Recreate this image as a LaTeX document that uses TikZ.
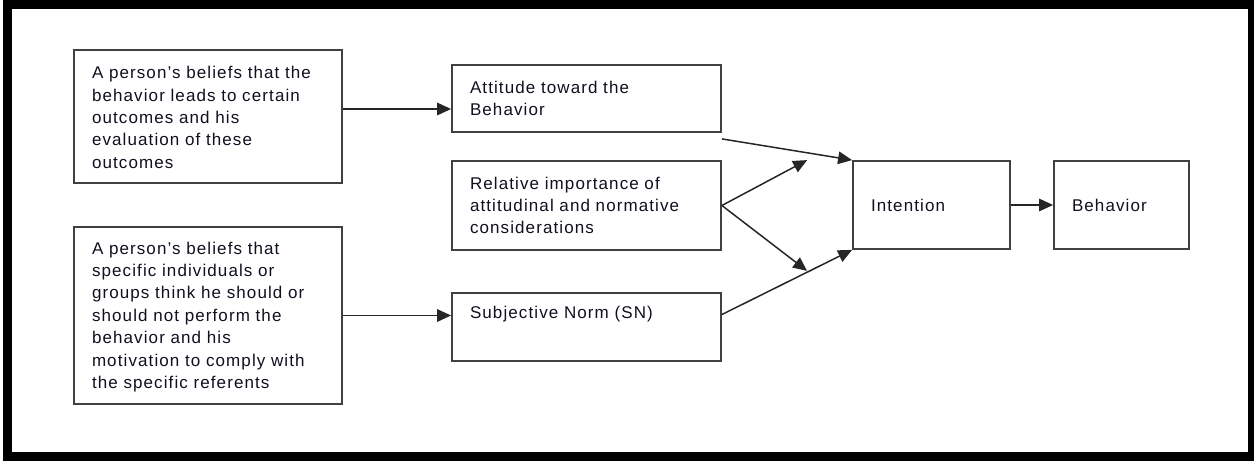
\documentclass[tikz,border=0pt]{standalone}
\usepackage{fontspec}
\setmainfont{Liberation Sans}[LetterSpace=6.5]
\usetikzlibrary{arrows.meta,calc}
\definecolor{boxline}{HTML}{404040}
\definecolor{txt}{HTML}{101020}
\tikzset{
  tbox/.style n args={2}{draw=boxline, line width=1.8pt, fill=white,
    minimum width=#1pt, minimum height=#2pt, text width=#1pt-36pt,
    inner xsep=18pt, inner ysep=0pt, align=left, text=txt,
    font=\fontsize{17pt}{22.4pt}\selectfont},
  arr/.style={draw=black!85, line width=1.5pt,
    -{Triangle[length=14pt,width=12.5pt]}},
}
\begin{document}
\begin{tikzpicture}[x=1pt,y=-1pt]
  \useasboundingbox (0,0) rectangle (1254,461);
  % outer frame
  \draw[line width=9pt] (7.8,4.5) rectangle (1252.5,456.5);

  % beliefs
  \node[tbox={268}{133}] (b1) at (208,116.5)
    {\rule{0pt}{14pt}A person's beliefs that the\\behavior leads to certain\\outcomes and his\\evaluation of these\\outcomes};
  \node[tbox={268}{177}] (b2) at (208,315.5)
    {\rule{0pt}{15pt}A person's beliefs that\\specific individuals or\\groups think he should or\\should not perform the\\behavior and his\\motivation to comply with\\the specific referents};

  % middle column
  \node[tbox={269}{67}] (att) at (586.5,98.5) {Attitude toward the\\Behavior};
  \node[tbox={269}{89}] (rel) at (586.5,205.5)
    {Relative importance of\\attitudinal and normative\\considerations};
  \node[tbox={269}{68}] (sn) at (586.5,327) {Subjective Norm (SN)\\\strut};

  % outcome
  \node[tbox={157}{88}] (int) at (931.5,205) {Intention};
  \node[tbox={135}{88}] (beh) at (1121.5,205) {Behavior};

  % connectors
  \coordinate (a1s) at ([yshift=7.5pt]b1.east);
  \draw[arr] (a1s) -- (a1s -| att.west);
  \draw[arr] (b2.east) -- (b2.east -| sn.west);
  \draw[arr] ([yshift=-6pt]att.south east) -- (int.north west);
  \coordinate (up) at ([xshift=-45pt]int.north west);
  \coordinate (dn) at ([xshift=-45pt,yshift=-21pt]int.south west);
  \draw[arr] (rel.east) -- (up);
  \draw[arr] (rel.east) -- (dn);
  \draw[arr] ([yshift=12.5pt]sn.east) -- (int.south west);
  \draw[arr] (int.east) -- (beh.west);
\end{tikzpicture}
\end{document}
